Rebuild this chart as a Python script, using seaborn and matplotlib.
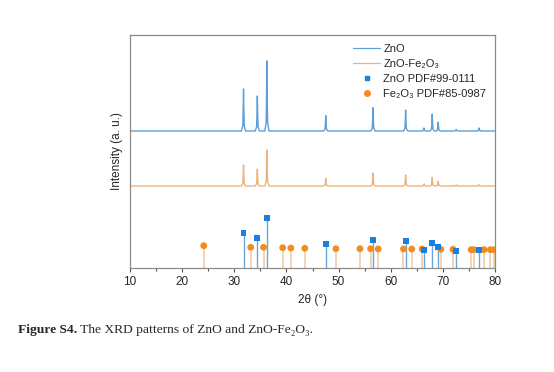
import matplotlib
matplotlib.use('Agg')
import matplotlib.pyplot as plt
import numpy as np
import pandas as pd
import seaborn as sns
from matplotlib.lines import Line2D

sns.set_style("ticks")
plt.rcParams['font.family'] = ['Liberation Sans', 'DejaVu Sans']

zno_peaks = [31.77, 34.42, 36.25, 47.54, 56.60, 62.86, 66.38, 67.96, 69.10, 72.56, 76.95]
zno_heights = [42, 35, 70, 15.3, 23.3, 21, 3, 16.7, 8.7, 1.5, 3]
znofe_heights = [21, 17, 36, 7.7, 13, 11, 2, 8.7, 4.7, 1, 1.3]

# reference cards
zno_ref_pos = [31.77, 34.42, 36.25, 47.54, 56.60, 62.86, 66.38, 67.96, 69.10, 72.56, 76.95]
zno_ref_int = [35.3, 30.3, 50.3, 24.3, 28, 27, 18, 25.3, 20.7, 17, 17.7]
fe_ref_pos = [24.14, 33.15, 35.61, 39.28, 40.85, 43.52, 49.48, 54.09, 56.15, 57.59,
              62.45, 64.03, 66.03, 69.60, 71.94, 75.43, 75.90, 77.90, 79.10, 79.80]
fe_ref_int = [22.3, 20.7, 20.7, 20.3, 20, 19.7, 19.3, 19.3, 19.3, 19,
              19, 19, 19, 18.7, 18.7, 18.3, 18.3, 18.3, 18.3, 18.3]

ZNO_OFFSET = 137
ZNOFE_OFFSET = 82


def trace(peaks, heights, offset):
    xs, ys = [10.0], [offset]
    for p, h in zip(peaks, heights):
        xs += [p - 0.4, p - 0.14, p - 0.05, p, p + 0.05, p + 0.14, p + 0.4]
        ys += [offset, offset + 0.12 * h, offset + 0.6 * h, offset + h,
               offset + 0.6 * h, offset + 0.12 * h, offset]
    xs.append(80.0)
    ys.append(offset)
    return pd.DataFrame({'two_theta': xs, 'intensity': ys})


c_zno = '#5d9fd8'
c_znofe = '#ecb47c'
c_sq = '#1a7fe3'
c_dot = '#f28c22'

fig = plt.figure(figsize=(5.54, 3.72), dpi=100)
ax = fig.add_axes([0.2347, 0.2796, 0.6588, 0.6264])

sns.lineplot(data=trace(zno_peaks, zno_heights, ZNO_OFFSET), x='two_theta', y='intensity',
             color=c_zno, lw=1.0, ax=ax, sort=False, estimator=None)
sns.lineplot(data=trace(zno_peaks, znofe_heights, ZNOFE_OFFSET), x='two_theta', y='intensity',
             color=c_znofe, lw=1.0, ax=ax, sort=False, estimator=None)

ax.vlines(zno_ref_pos, 0, zno_ref_int, color='#6aa6dc', lw=1.0, zorder=2)
ax.vlines(fe_ref_pos, 0, fe_ref_int, color='#f2c79c', lw=1.1, zorder=2)
sns.scatterplot(x=fe_ref_pos, y=fe_ref_int, color=c_dot, marker='o', s=24,
                edgecolor='none', ax=ax, zorder=3)
sns.scatterplot(x=zno_ref_pos, y=zno_ref_int, color=c_sq, marker='s', s=18,
                edgecolor='none', ax=ax, zorder=4)

ax.set_xlim(10, 80)
ax.set_ylim(0, 233)
ax.set_xticks(range(10, 81, 10))
ax.set_xticks(range(15, 80, 10), minor=True)
ax.set_yticks([])
ax.tick_params(axis='x', which='major', length=3, width=0.8, color='#555555',
               labelsize=8.5, pad=3)
ax.tick_params(axis='x', which='minor', length=1.8, width=0.8, color='#555555')
for s in ax.spines.values():
    s.set_color('#8c8c8c')
    s.set_linewidth(0.9)
ax.set_xlabel('2θ (°)', fontsize=8.5, labelpad=4)
ax.set_ylabel('Intensity (a. u.)', fontsize=8.5, labelpad=5)

handles = [
    Line2D([], [], color=c_zno, lw=0.9),
    Line2D([], [], color=c_znofe, lw=0.9),
    Line2D([], [], color=c_sq, marker='s', ls='none', markersize=3.5),
    Line2D([], [], color=c_dot, marker='o', ls='none', markersize=4),
]
labels = ['ZnO', 'ZnO-Fe₂O₃', 'ZnO PDF#99-0111', 'Fe₂O₃ PDF#85-0987']
ax.legend(handles, labels, loc='upper right', bbox_to_anchor=(1.0, 1.0), frameon=False,
          fontsize=8, handlelength=2.4, handletextpad=0.3, labelspacing=0.45,
          borderaxespad=0.4)

cap_fam = ['Liberation Serif', 'DejaVu Serif']
t = fig.text(18 / 554, 1 - 333 / 372, 'Figure S4.', fontsize=9.7, weight='bold',
             family=cap_fam, va='baseline')
ax.annotate(' The XRD patterns of ZnO and ZnO-Fe₂O₃.', xy=(1, 0), xycoords=t,
            va='bottom', ha='left', fontsize=9.7, family=cap_fam, annotation_clip=False)

fig.savefig('out.png', dpi=100)
